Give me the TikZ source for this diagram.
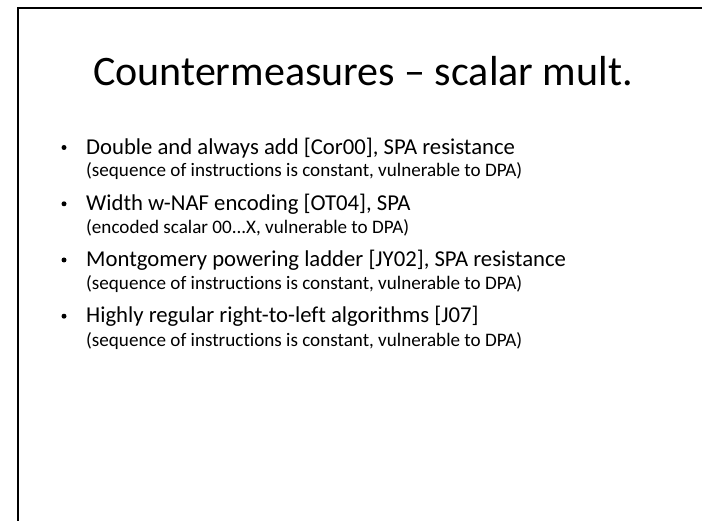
\documentclass[tikz,border=0pt]{standalone}
\usepackage{fontspec}
\setmainfont{Carlito}[Ligatures=NoCommon]

\tikzset{
  slidetitle/.style={anchor=base, inner sep=0pt, font=\fontsize{42}{50}\selectfont},
  itemtext/.style={anchor=base west, inner sep=0pt, font=\fontsize{22.7}{27}\selectfont},
  notetext/.style={anchor=base west, inner sep=0pt, font=\fontsize{19.1}{23}\selectfont},
  bulletdot/.style={circle, fill, inner sep=0pt, minimum size=5pt}
}

\begin{document}
\begin{tikzpicture}[x=1pt, y=-1pt]
    \useasboundingbox (0,0) rectangle (702,521);
    % slide frame
    \draw[line width=2.2pt] (18,521) -- (18,8) -- (702,8);

    \node[slidetitle] (title) at (363,86) {Countermeasures – scalar mult.};

    % bullet list
    \node[bulletdot] (d1) at (64,147.5) {};
    \node[itemtext] (b1) at (86,154.3) {Double and always add [Cor00], SPA resistance};
    \node[notetext] (n1) at (86,177) {(sequence of instructions is constant, vulnerable to DPA)};

    \node[bulletdot] (d2) at (64,203.8) {};
    \node[itemtext] (b2) at (86,210.6) {Width w-NAF encoding [OT04], SPA};
    \node[notetext] (n2) at (86,233.5) {(encoded scalar 00...X, vulnerable to DPA)};

    \node[bulletdot] (d3) at (64,260) {};
    \node[itemtext] (b3) at (86,266.8) {Montgomery powering ladder [JY02], SPA resistance};
    \node[notetext] (n3) at (86,290) {(sequence of instructions is constant, vulnerable to DPA)};

    \node[bulletdot] (d4) at (64,316.2) {};
    \node[itemtext] (b4) at (86,323) {Highly regular right-to-left algorithms [J07]};
    \node[notetext] (n4) at (86,346.5) {(sequence of instructions is constant, vulnerable to DPA)};
\end{tikzpicture}
\end{document}
